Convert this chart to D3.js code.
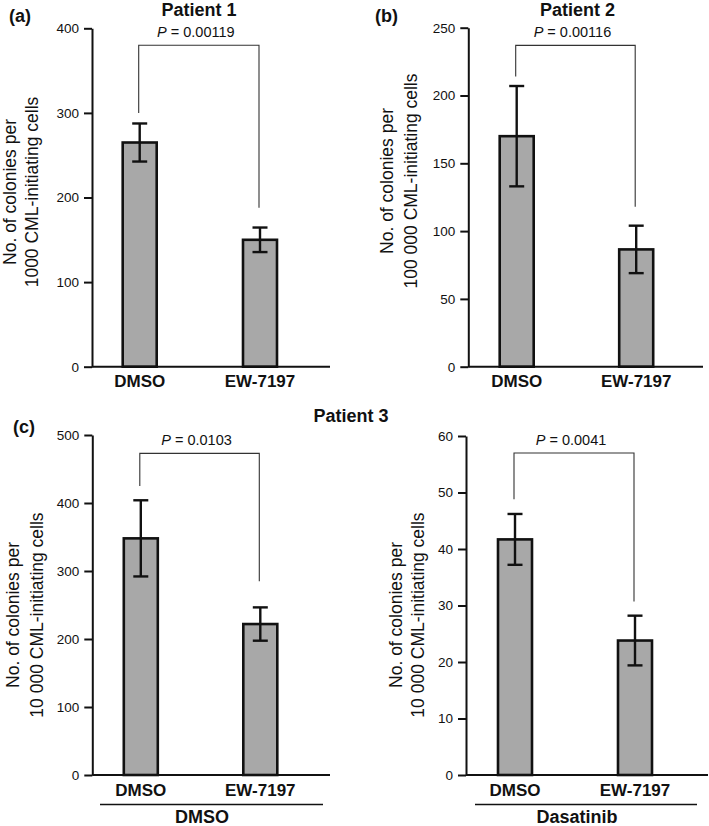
<!DOCTYPE html>
<html>
<head>
<meta charset="utf-8">
<script src="https://cdn.jsdelivr.net/npm/d3@7"></script>
<style>
  html, body { margin: 0; padding: 0; background: #fff; }
  svg { display: block; }
  text { font-family: "Liberation Sans", Arial, Helvetica, sans-serif; fill: #111; }
</style>
</head>
<body>
<svg id="chart" width="709" height="826"></svg>
<script>
// ---- data ----
const categories = ["DMSO", "EW-7197"];

const p1Means = [265, 150];
const p1Errors = [22.5, 14.5];
const p2Means = [170, 86.5];
const p2Errors = [37, 17.5];
const p3DmsoMeans = [348, 222];
const p3DmsoErrors = [56, 24.5];
const p3DasMeans = [41.7, 23.8];
const p3DasErrors = [4.5, 4.4];

const yMaxes = [400, 250, 500, 60];
const tickSteps = [100, 50, 100, 10];

const pValues = ["0.00119", "0.00116", "0.0103", "0.0041"];
const bracketTop = [380, 237, 473, 57];
const bracketLeftEnd = [300, 214, 425, 48.8];
const bracketRightEnd = [188, 118, 285, 30.7];

const titles = ["Patient 1", "Patient 2", "Patient 3"];
const panelLetters = ["(a)", "(b)", "(c)"];
const yLabelLine1 = "No. of colonies per";
const yLabelLine2 = ["1000 CML-initiating cells", "100 000 CML-initiating cells",
                     "10 000 CML-initiating cells", "10 000 CML-initiating cells"];
const groupLabels = ["DMSO", "Dasatinib"];

const seriesMeans = [p1Means, p2Means, p3DmsoMeans, p3DasMeans];
const seriesErrors = [p1Errors, p2Errors, p3DmsoErrors, p3DasErrors];

// ---- layout (pixels) ----
const layout = [
  {x0: 92, x1: 330, yTop: 28.3, yBot: 366.7, c: [139.7, 260], lab: 386.5, yl: {cy: 192, b1: 16, b2: 37.5}},
  {x0: 468.3, x1: 703, yTop: 27.7, yBot: 366.7, c: [516.7, 636.2], lab: 386.5, yl: {cy: 181, b1: 392.7, b2: 416.7}},
  {x0: 92.3, x1: 330, yTop: 435, yBot: 775, c: [140.8, 260.3], lab: 796, yl: {cy: 615, b1: 19.3, b2: 42.7},
   group: {x1: 100, x2: 323, ly: 804.5, ty: 823, tx: 202}},
  {x0: 466, x1: 708, yTop: 436, yBot: 775, c: [515, 635], lab: 796, yl: {cy: 615, b1: 401.7, b2: 424.3},
   group: {x1: 475, x2: 697, ly: 804.5, ty: 823, tx: 577}}
];

const svg = d3.select("#chart");
const barW = 34;
const barFill = "#a8a8a8";

layout.forEach((L, i) => {
  const g = svg.append("g");
  const y = d3.scaleLinear().domain([0, yMaxes[i]]).range([L.yBot, L.yTop]);
  const x = d3.scalePoint().domain(categories).range(L.c);

  // y axis
  const ya = g.append("g")
    .attr("transform", `translate(${L.x0},0)`)
    .call(d3.axisLeft(y)
      .tickValues(d3.range(0, yMaxes[i] + tickSteps[i] / 2, tickSteps[i]))
      .tickSize(8).tickSizeOuter(0).tickPadding(5));
  ya.select(".domain").attr("stroke", "#111").attr("stroke-width", 2);
  ya.selectAll(".tick line").attr("stroke", "#111").attr("stroke-width", 2);
  ya.selectAll(".tick text").style("font-size", "13.5px").attr("fill", "#111")
    .style("font-family", '"Liberation Sans", Arial, sans-serif');

  // bars
  g.selectAll("rect.bar").data(categories).enter().append("rect")
    .attr("class", "bar")
    .attr("x", d => x(d) - barW / 2)
    .attr("width", barW)
    .attr("y", (d, k) => y(seriesMeans[i][k]))
    .attr("height", (d, k) => y(0) - y(seriesMeans[i][k]))
    .attr("fill", barFill)
    .attr("stroke", "#111")
    .attr("stroke-width", 2.6);

  // x axis baseline
  g.append("line")
    .attr("x1", L.x0).attr("x2", L.x1)
    .attr("y1", y(0)).attr("y2", y(0))
    .attr("stroke", "#111").attr("stroke-width", 2);

  // error bars
  const capW = 15;
  categories.forEach((cat, k) => {
    const m = seriesMeans[i][k], e = seriesErrors[i][k];
    const cx = x(cat);
    g.append("line").attr("x1", cx).attr("x2", cx)
      .attr("y1", y(m + e)).attr("y2", y(m - e))
      .attr("stroke", "#111").attr("stroke-width", 2.4);
    [m + e, m - e].forEach(v => {
      g.append("line").attr("x1", cx - capW / 2).attr("x2", cx + capW / 2)
        .attr("y1", y(v)).attr("y2", y(v))
        .attr("stroke", "#111").attr("stroke-width", 2.4);
    });
  });

  // x category labels
  g.selectAll("text.xl").data(categories).enter().append("text")
    .attr("class", "xl")
    .attr("x", d => x(d))
    .attr("y", L.lab)
    .attr("text-anchor", "middle")
    .style("font-size", "17px").style("font-weight", "bold")
    .text(d => d);

  // significance bracket
  const bx1 = x(categories[0]) - 1, bx2 = x(categories[1]) - 1;
  g.append("path")
    .attr("d", `M${bx1},${y(bracketLeftEnd[i])}V${y(bracketTop[i])}H${bx2}V${y(bracketRightEnd[i])}`)
    .attr("fill", "none").attr("stroke", "#333").attr("stroke-width", 1.1);
  const pt = g.append("text")
    .attr("x", (bx1 + bx2) / 2 - 3)
    .attr("y", y(bracketTop[i]) - 8)
    .attr("text-anchor", "middle")
    .style("font-size", "14.5px");
  pt.append("tspan").style("font-style", "italic").text("P");
  pt.append("tspan").text(" = " + pValues[i]);

  // y axis label (two lines)
  [[yLabelLine1, L.yl.b1], [yLabelLine2[i], L.yl.b2]].forEach(([t, bx]) => {
    g.append("text")
      .attr("transform", `translate(${bx},${L.yl.cy}) rotate(-90)`)
      .attr("text-anchor", "middle")
      .style("font-size", "17.5px")
      .text(t);
  });

  // group underline + label
  if (L.group) {
    g.append("line")
      .attr("x1", L.group.x1).attr("x2", L.group.x2)
      .attr("y1", L.group.ly).attr("y2", L.group.ly)
      .attr("stroke", "#111").attr("stroke-width", 1.3);
    g.append("text")
      .attr("x", L.group.tx).attr("y", L.group.ty)
      .attr("text-anchor", "middle")
      .style("font-size", "18px").style("font-weight", "bold")
      .text(groupLabels[i - 2]);
  }
});

// titles and panel letters
const titlePos = [[199, 15.5], [577.5, 15.5], [351, 422]];
titles.forEach((t, k) => {
  svg.append("text")
    .attr("x", titlePos[k][0]).attr("y", titlePos[k][1])
    .attr("text-anchor", "middle")
    .style("font-size", "18px").style("font-weight", "bold")
    .text(t);
});
const letterPos = [[9, 22], [375, 22], [13, 433]];
panelLetters.forEach((t, k) => {
  svg.append("text")
    .attr("x", letterPos[k][0]).attr("y", letterPos[k][1])
    .style("font-size", "18px").style("font-weight", "bold")
    .text(t);
});
</script>
</body>
</html>
